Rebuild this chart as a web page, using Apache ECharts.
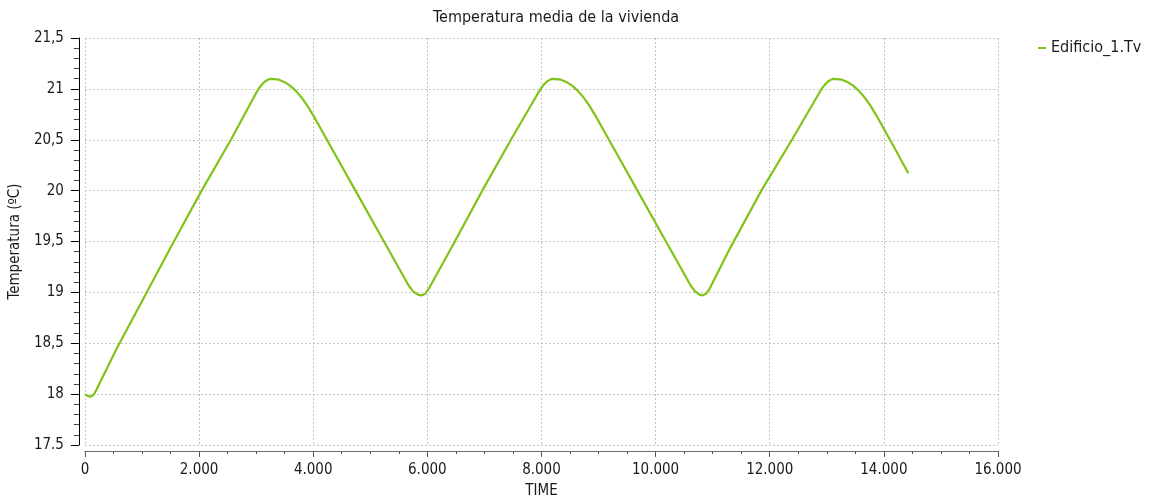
<!DOCTYPE html>
<html>
<head>
<meta charset="utf-8">
<script src="https://cdn.jsdelivr.net/npm/echarts@6/dist/echarts.min.js"></script>
<style>
html,body{margin:0;padding:0;background:#fff;}
#chart{width:1151px;height:504px;}
</style>
</head>
<body>
<div id="chart"></div>
<script>
// ---- data ----
var chartTitle = 'Temperatura media de la vivienda';
var seriesName = 'Edificio_1.Tv';
var xAxisName = 'TIME';
var yAxisName = 'Temperatura (ºC)';

var timeValues = [0, 40, 80, 120, 160, 200, 250, 400, 559, 1054, 1530, 2045, 2558, 3000, 3050, 3100, 3150, 3200, 3250, 3280, 3400, 3500, 3600, 3700, 3800, 3900, 4000, 4240, 4740, 5240, 5670, 5750, 5800, 5850, 5892, 5930, 5970, 6030, 6463, 6963, 7465, 7942, 7992, 8042, 8092, 8142, 8192, 8222, 8342, 8442, 8542, 8642, 8742, 8842, 8942, 9182, 9682, 10182, 10612, 10690, 10740, 10780, 10816, 10850, 10890, 10950, 11311, 11853, 12389, 12867, 12917, 12967, 13017, 13067, 13117, 13147, 13267, 13367, 13467, 13567, 13667, 13767, 13867, 14107, 14429];
var tempValues = [18.0, 17.985, 17.975, 17.98, 18.0, 18.04, 18.1, 18.27, 18.45, 18.97, 19.47, 20.0, 20.5, 20.96, 21.006, 21.042, 21.07, 21.089, 21.098, 21.1, 21.09, 21.066, 21.029, 20.978, 20.912, 20.833, 20.74, 20.5, 20.0, 19.5, 19.07, 19.01, 18.99, 18.975, 18.97, 18.975, 18.99, 19.04, 19.48, 20.0, 20.5, 20.96, 21.006, 21.042, 21.07, 21.089, 21.098, 21.1, 21.09, 21.066, 21.029, 20.978, 20.912, 20.833, 20.74, 20.5, 20.0, 19.5, 19.07, 19.01, 18.99, 18.975, 18.97, 18.975, 18.99, 19.04, 19.44, 20.0, 20.5, 20.96, 21.006, 21.042, 21.07, 21.089, 21.098, 21.1, 21.09, 21.066, 21.029, 20.978, 20.912, 20.833, 20.74, 20.5, 20.17];

var xTickValues = [0, 2000, 4000, 6000, 8000, 10000, 12000, 14000, 16000];
var xTickLabels = ['0', '2.000', '4.000', '6.000', '8.000', '10.000', '12.000', '14.000', '16.000'];
var yTickValues = [17.5, 18, 18.5, 19, 19.5, 20, 20.5, 21, 21.5];
var yTickLabels = ['17.5', '18', '18,5', '19', '19,5', '20', '20,5', '21', '21,5'];

// ---- chart ----
var FONT = '"DejaVu Sans Condensed", "DejaVu Sans", sans-serif';
var TEXT = '#1a1a1a';
var LINE = '#7fc41a';

function lookup(vals, labels, v) {
  for (var i = 0; i < vals.length; i++) {
    if (Math.abs(vals[i] - v) < 1e-6) return labels[i];
  }
  return '';
}

var seriesData = timeValues.map(function (t, i) { return [t, tempValues[i]]; });

var chart = echarts.init(document.getElementById('chart'), null, {renderer: 'canvas'});
chart.setOption({
  animation: false,
  backgroundColor: '#ffffff',
  title: {
    text: chartTitle,
    left: 428,
    top: 5,
    textStyle: {fontFamily: FONT, fontSize: 16, fontWeight: 'normal', color: TEXT}
  },
  legend: {
    data: [{name: seriesName, icon: 'rect'}],
    left: 1033,
    top: 35,
    itemWidth: 8,
    itemHeight: 2,
    textStyle: {fontFamily: FONT, fontSize: 16, color: TEXT}
  },
  grid: {left: 83, right: 153, top: 38, bottom: 58, containLabel: false},
  xAxis: {
    type: 'value',
    min: 0,
    max: 16000,
    interval: 2000,
    offset: 6,
    name: xAxisName,
    nameLocation: 'middle',
    nameGap: 33,
    nameTextStyle: {fontFamily: FONT, fontSize: 15, color: TEXT},
    axisLine: {show: true, onZero: false, lineStyle: {color: '#6e6e6e', width: 1}},
    axisTick: {show: true, length: 6, lineStyle: {color: '#555'}},
    minorTick: {show: true, splitNumber: 4, length: 3, lineStyle: {color: '#555'}},
    axisLabel: {
      fontFamily: FONT, fontSize: 15, color: TEXT, margin: 12,
      formatter: function (v) { return lookup(xTickValues, xTickLabels, v); }
    },
    splitLine: {show: true, lineStyle: {color: '#c4c4c4', type: [2, 2], width: 1}}
  },
  yAxis: {
    type: 'value',
    min: 17.5,
    max: 21.5,
    interval: 0.5,
    offset: 6,
    name: yAxisName,
    nameLocation: 'middle',
    nameGap: 52,
    nameRotate: 90,
    nameTextStyle: {fontFamily: FONT, fontSize: 15, color: TEXT},
    axisLine: {show: true, onZero: false, lineStyle: {color: '#000', width: 1}},
    axisTick: {show: true, length: 8, lineStyle: {color: '#000'}},
    minorTick: {show: true, splitNumber: 5, length: 5, lineStyle: {color: '#444'}},
    axisLabel: {
      fontFamily: FONT, fontSize: 15, color: TEXT, margin: 15,
      formatter: function (v) { return lookup(yTickValues, yTickLabels, v); }
    },
    splitLine: {show: true, lineStyle: {color: '#c4c4c4', type: [2, 2], width: 1}}
  },
  series: [{
    name: seriesName,
    type: 'line',
    data: seriesData,
    showSymbol: false,
    symbol: 'none',
    smooth: false,
    lineStyle: {color: LINE, width: 2.2},
    itemStyle: {color: LINE}
  }]
});
</script>
</body>
</html>
